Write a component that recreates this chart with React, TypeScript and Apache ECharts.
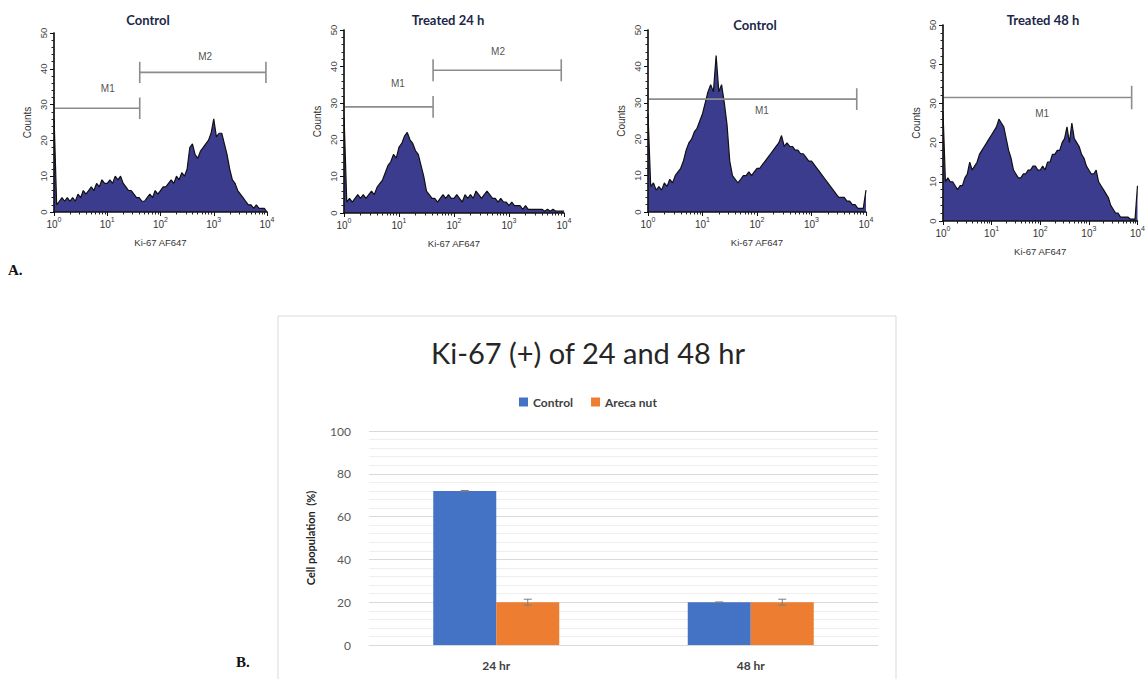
import React, { useEffect, useRef } from "react";
import * as echarts from "echarts";

// ---------- Panel A: flow-cytometry histograms (counts per log-channel bin) ----------
const BIN_STEP = 0.05; // decades per bin, bins start at 10^0

const H_CONTROL_24 = [
  27, 2, 3, 4, 3, 4, 3, 4, 3, 5,
  4, 6, 5, 6, 7, 6, 8, 7, 9, 8,
  8, 9, 8, 10, 9, 10, 8, 7, 6, 6,
  5, 4, 4, 3, 3, 4, 5, 4, 6, 5,
  6, 7, 7, 8, 9, 8, 10, 9, 11, 10,
  12, 18, 19, 16, 15, 17, 18, 19, 20, 22,
  26, 21, 22, 22, 19, 16, 12, 9, 8, 6,
  5, 4, 3, 2, 2, 1, 2, 1, 1, 1,
  0,
];
const H_TREATED_24 = [
  27, 3, 4, 3, 4, 5, 4, 5, 4, 5,
  6, 5, 7, 8, 9, 11, 13, 14, 16, 15,
  18, 19, 21, 22, 20, 19, 17, 16, 13, 10,
  6, 5, 4, 4, 3, 4, 5, 4, 5, 4,
  4, 5, 4, 3, 5, 4, 5, 4, 6, 5,
  4, 5, 6, 5, 4, 4, 3, 4, 3, 3,
  2, 3, 2, 2, 2, 1, 2, 1, 1, 1,
  1, 1, 1, 0.5, 1, 0.5, 1, 0.5, 0.5, 0.5,
  0.5,
];
const H_CONTROL_48 = [
  27, 7, 8, 6, 7, 6, 8, 7, 9, 8,
  10, 11, 12, 14, 17, 19, 20, 22, 23, 25,
  27, 30, 33, 35, 33, 43, 33, 35, 30, 24,
  14, 10, 9, 8, 9, 10, 10, 11, 10, 11,
  12, 12, 13, 14, 15, 16, 17, 18, 19, 21,
  18, 19, 18, 18, 17, 17, 16, 16, 15, 14,
  14, 13, 12, 11, 10, 9, 8, 7, 6, 5,
  4, 4, 4, 3, 3, 2, 2, 1, 1, 1,
  6,
];
const H_TREATED_48 = [
  28, 10, 11, 10, 10, 9, 8, 9, 9, 11,
  12, 15, 13, 14, 15, 17, 18, 19, 20, 21,
  22, 23, 24, 26, 25, 24, 21, 18, 16, 13,
  12, 11, 11, 12, 12, 13, 13, 14, 14, 13,
  13, 14, 13, 15, 15, 17, 17, 18, 18, 20,
  21, 24, 20, 25, 21, 20, 19, 17, 16, 14,
  13, 12, 12, 13, 10, 9, 8, 7, 6, 4,
  3, 2, 2, 1, 1, 1, 1, 0.5, 0.5, 0.5,
  9,
];

const HIST_TITLES = ["Control", "Treated 24 h", "Control", "Treated 48 h"];
const X_NAME = "Ki-67 AF647";
const Y_NAME = "Counts";

// marker gates: from / to in decades, level in counts, label position
const GATES_CONTROL_24 = [
  { name: "M1", from: 0, to: 1.61, level: 29, label: [1.01, 34.6] },
  { name: "M2", from: 1.61, to: 3.98, level: 39, label: [2.84, 43.3] },
];
const GATES_TREATED_24 = [
  { name: "M1", from: 0, to: 1.62, level: 29, label: [0.98, 35.5] },
  { name: "M2", from: 1.62, to: 3.95, level: 39, label: [2.8, 44] },
];
const GATES_CONTROL_48 = [{ name: "M1", from: 0, to: 3.83, level: 31, label: [2.09, 28] }];
const GATES_TREATED_48 = [{ name: "M1", from: 0, to: 3.88, level: 31.5, label: [2.04, 27.5] }];

// ---------- Panel B: bar chart ----------
const BAR_TITLE = "Ki-67 (+) of 24 and 48 hr";
const BAR_CATEGORIES = ["24 hr", "48 hr"];
const CONTROL_VALUES = [72, 20];
const ARECA_VALUES = [20, 20];
const CONTROL_ERRORS = [0.2, 0.1];
const ARECA_ERRORS = [1.4, 1.4];

const HIST_FONT = "'Liberation Sans', Arial, sans-serif";
const CAL_FONT = "Lato, 'Open Sans', sans-serif";
const SERIF = "'Liberation Serif', 'DejaVu Serif', serif";

const PANELS = [
  { data: H_CONTROL_24, gates: GATES_CONTROL_24, grid: { left: 54, top: 33, width: 213, height: 179 }, title: [148, 20], rightOffset: 3 },
  { data: H_TREATED_24, gates: GATES_TREATED_24, grid: { left: 344, top: 30, width: 220, height: 183 }, title: [448, 20], rightOffset: 2 },
  { data: H_CONTROL_48, gates: GATES_CONTROL_48, grid: { left: 648, top: 30, width: 218, height: 182 }, title: [755, 25], rightOffset: 2 },
  { data: H_TREATED_48, gates: GATES_TREATED_48, grid: { left: 943, top: 25, width: 196, height: 196 }, title: [1043, 20], rightOffset: 7 },
];

const MINOR_LOG: number[] = [];
for (let d = 0; d < 4; d++) for (let k = 2; k <= 9; k++) MINOR_LOG.push(d + Math.log10(k));

const BAR_WIDTH = 63;

function buildOption() {
  const grid: any[] = [];
  const xAxis: any[] = [];
  const yAxis: any[] = [];
  const series: any[] = [];
  const graphic: any[] = [];

  PANELS.forEach((p, i) => {
    grid.push({ ...p.grid, containLabel: false });
    const xMain = xAxis.length;
    xAxis.push({
      type: "value",
      gridIndex: i,
      position: "bottom",
      min: 0,
      max: 4,
      interval: 1,
      z: 6,
      axisLine: { show: true, onZero: false, lineStyle: { color: "#111", width: 1.5 } },
      axisTick: { show: true, inside: false, length: 4, lineStyle: { color: "#111" } },
      splitLine: { show: false },
      axisLabel: {
        margin: 4,
        formatter: (v: number) => `{b|10}{s|${v}}`,
        rich: {
          b: { fontSize: 10, lineHeight: 13, verticalAlign: "bottom", color: "#333", fontFamily: HIST_FONT },
          s: { fontSize: 7, lineHeight: 8, verticalAlign: "top", color: "#333", fontFamily: HIST_FONT },
        },
      },
      name: X_NAME,
      nameLocation: "middle",
      nameGap: 25,
      nameTextStyle: { fontSize: 9.5, color: "#333", fontFamily: HIST_FONT },
    });
    xAxis.push({
      type: "value",
      gridIndex: i,
      position: "bottom",
      offset: 0,
      min: 0,
      max: 4,
      interval: 1,
      z: 6,
      axisLine: { show: false, onZero: false },
      axisTick: { show: true, inside: false, length: 2.5, customValues: MINOR_LOG, lineStyle: { color: "#222" } },
      axisLabel: { show: false },
      splitLine: { show: false },
    });
    const yMain = yAxis.length;
    yAxis.push({
      type: "value",
      gridIndex: i,
      position: "left",
      min: 0,
      max: 50,
      interval: 10,
      z: 6,
      axisLine: { show: true, onZero: false, lineStyle: { color: "#111", width: 1.5 } },
      axisTick: { show: true, length: 4, lineStyle: { color: "#111" } },
      minorTick: { show: true, splitNumber: 5, length: 2.5, lineStyle: { color: "#222" } },
      splitLine: { show: false },
      axisLabel: { rotate: 90, fontSize: 9.5, color: "#444", margin: 6, fontFamily: HIST_FONT },
      name: Y_NAME,
      nameLocation: "middle",
      nameGap: 22,
      nameTextStyle: { fontSize: 10, color: "#333", fontFamily: HIST_FONT },
    });
    yAxis.push({
      type: "value",
      gridIndex: i,
      position: "right",
      offset: p.rightOffset,
      min: 0,
      max: 50,
      axisLine: { show: true, lineStyle: { color: "#9a9a9a", width: 1.5 } },
      axisTick: { show: false },
      axisLabel: { show: false },
      splitLine: { show: false },
    });

    series.push({
      type: "line",
      xAxisIndex: xMain,
      yAxisIndex: yMain,
      data: p.data.map((c, k) => [k * BIN_STEP, c]),
      symbol: "none",
      silent: true,
      lineStyle: { color: "#111", width: 1.2 },
      areaStyle: { color: "#3c3c8e", opacity: 1 },
      z: 3,
    });
    p.gates.forEach((g) => {
      series.push({
        type: "line",
        xAxisIndex: xMain,
        yAxisIndex: yMain,
        symbol: "none",
        silent: true,
        lineStyle: { color: "#8c8c8c", width: 1.6 },
        data: [
          [g.from, g.level - 3],
          [g.from, g.level + 3],
          [g.from, g.level],
          [g.to, g.level],
          [g.to, g.level + 3],
          [g.to, g.level - 3],
        ],
        z: 4,
      });
      series.push({
        type: "scatter",
        xAxisIndex: xMain,
        yAxisIndex: yMain,
        symbolSize: 0,
        silent: true,
        itemStyle: { color: "transparent" },
        data: [g.label],
        label: {
          show: true,
          position: "inside",
          formatter: g.name,
          fontSize: 10,
          color: "#222",
          textBorderWidth: 0,
          textBorderColor: "transparent",
          fontFamily: HIST_FONT,
        },
        z: 5,
      });
    });
    graphic.push({
      type: "text",
      x: p.title[0],
      y: p.title[1],
      style: {
        text: HIST_TITLES[i],
        fontSize: 13,
        fontWeight: "bold",
        fontFamily: CAL_FONT,
        fill: "#1c2748",
        textAlign: "center",
        textVerticalAlign: "middle",
      },
    });
  });

  // ---------- bar chart ----------
  const gb = grid.length;
  grid.push({ left: 369, top: 431, width: 509, height: 214, containLabel: false });
  const xb = xAxis.length;
  xAxis.push({
    type: "category",
    gridIndex: gb,
    data: BAR_CATEGORIES,
    axisLine: { show: true, lineStyle: { color: "#d9d9d9" } },
    axisTick: { show: false },
    axisLabel: { fontSize: 12, fontWeight: "bold", color: "#404040", margin: 14, fontFamily: CAL_FONT },
  });
  const yb = yAxis.length;
  yAxis.push({
    type: "value",
    gridIndex: gb,
    min: 0,
    max: 100,
    interval: 20,
    axisLine: { show: false },
    axisTick: { show: false },
    minorTick: { show: false, splitNumber: 5 },
    splitLine: { show: true, lineStyle: { color: "#d9d9d9", width: 1 } },
    minorSplitLine: { show: true, lineStyle: { color: "#eeeeee", width: 1 } },
    axisLabel: { fontSize: 12, color: "#595959", margin: 18, fontFamily: CAL_FONT },
    name: "Cell population  (%)",
    nameLocation: "middle",
    nameGap: 53,
    nameTextStyle: { fontSize: 11, fontWeight: "bold", color: "#222", fontFamily: CAL_FONT },
  });

  series.push({
    name: "Control",
    type: "bar",
    xAxisIndex: xb,
    yAxisIndex: yb,
    data: CONTROL_VALUES,
    barWidth: BAR_WIDTH,
    barGap: "0%",
    itemStyle: { color: "#4472C4" },
    silent: true,
  });
  series.push({
    name: "Areca nut",
    type: "bar",
    xAxisIndex: xb,
    yAxisIndex: yb,
    data: ARECA_VALUES,
    barWidth: BAR_WIDTH,
    barGap: "0%",
    itemStyle: { color: "#ED7D31" },
    silent: true,
  });

  const errorSeries = (values: number[], errs: number[], offset: number) => ({
    type: "custom",
    xAxisIndex: xb,
    yAxisIndex: yb,
    silent: true,
    z: 10,
    data: values.map((v, k) => [k, v, errs[k]]),
    encode: { x: 0, y: 1 },
    renderItem: (_params: any, api: any) => {
      const c = api.value(0);
      const v = api.value(1);
      const e = api.value(2);
      const top = api.coord([c, v + e]);
      const bot = api.coord([c, v - e]);
      const x = top[0] + offset;
      const cap = 4;
      const st = { stroke: "#7f7f7f", lineWidth: 1 };
      return {
        type: "group",
        children: [
          { type: "line", shape: { x1: x, y1: top[1], x2: x, y2: bot[1] }, style: st },
          { type: "line", shape: { x1: x - cap, y1: top[1], x2: x + cap, y2: top[1] }, style: st },
          { type: "line", shape: { x1: x - cap, y1: bot[1], x2: x + cap, y2: bot[1] }, style: st },
        ],
      };
    },
  });
  series.push(errorSeries(CONTROL_VALUES, CONTROL_ERRORS, -BAR_WIDTH / 2));
  series.push(errorSeries(ARECA_VALUES, ARECA_ERRORS, BAR_WIDTH / 2));

  graphic.push({
    type: "rect",
    z: -10,
    shape: { x: 278, y: 316, width: 618, height: 400 },
    style: { fill: "#fff", stroke: "#d9d9d9", lineWidth: 1 },
  });
  graphic.push({
    type: "text",
    x: 588,
    y: 352,
    style: {
      text: BAR_TITLE,
      fontSize: 29,
      fontFamily: CAL_FONT,
      fill: "#262626",
      textAlign: "center",
      textVerticalAlign: "middle",
    },
  });
  graphic.push({
    type: "text",
    x: 8,
    y: 270,
    style: { text: "A.", fontSize: 15, fontWeight: "bold", fontFamily: SERIF, fill: "#111", textVerticalAlign: "middle" },
  });
  graphic.push({
    type: "text",
    x: 236,
    y: 662,
    style: { text: "B.", fontSize: 15, fontWeight: "bold", fontFamily: SERIF, fill: "#111", textVerticalAlign: "middle" },
  });

  return {
    animation: false,
    backgroundColor: "#ffffff",
    grid,
    xAxis,
    yAxis,
    series,
    graphic,
    legend: {
      data: ["Control", "Areca nut"],
      left: 514,
      top: 391,
      icon: "rect",
      itemWidth: 9,
      itemHeight: 9,
      itemGap: 18,
      textStyle: { fontSize: 12, fontWeight: "bold", color: "#404040", fontFamily: CAL_FONT },
      selectedMode: false,
    },
  };
}

export default function App() {
  const ref = useRef<HTMLDivElement>(null);
  useEffect(() => {
    document.body.style.margin = "0";
    if (!ref.current) return;
    const chart = echarts.init(ref.current, undefined, { renderer: "svg" });
    chart.setOption(buildOption() as any);
    return () => chart.dispose();
  }, []);
  return <div ref={ref} style={{ width: 1148, height: 679 }} />;
}
